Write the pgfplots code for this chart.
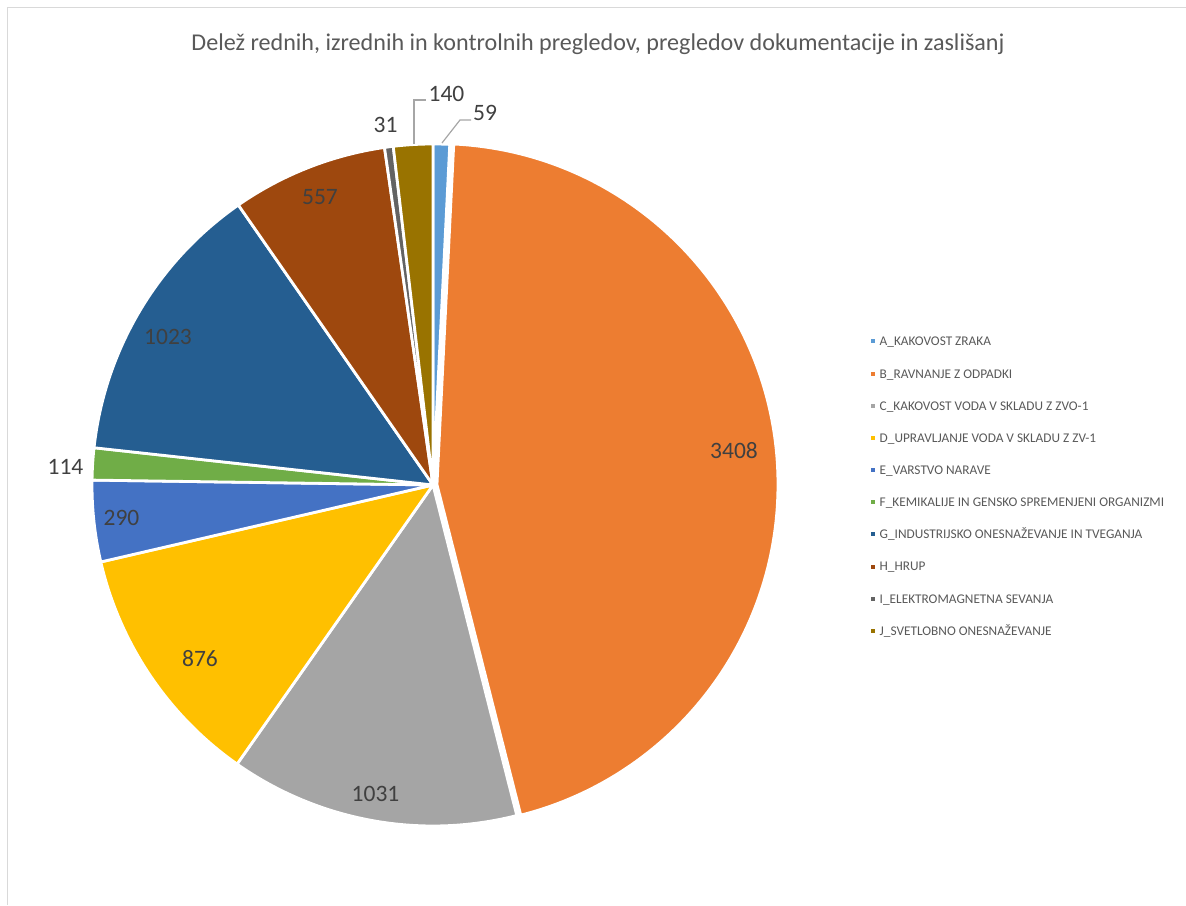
\documentclass[border=0pt]{standalone}
\usepackage{pgfplots}
\pgfplotsset{compat=1.18}
\usepackage{fontspec}
\setmainfont{Carlito}

\definecolor{c1}{HTML}{5B9BD5}
\definecolor{c2}{HTML}{ED7D31}
\definecolor{c3}{HTML}{A5A5A5}
\definecolor{c4}{HTML}{FFC000}
\definecolor{c5}{HTML}{4472C4}
\definecolor{c6}{HTML}{70AD47}
\definecolor{c7}{HTML}{255E91}
\definecolor{c8}{HTML}{9E480E}
\definecolor{c9}{HTML}{636363}
\definecolor{c10}{HTML}{997300}
\definecolor{titlegray}{HTML}{595959}
\definecolor{labelgray}{HTML}{404040}
\definecolor{framegray}{HTML}{D9D9D9}
\definecolor{leadergray}{HTML}{A6A6A6}

% values of the slices, clockwise from 12 o'clock
\def\pievalues{59,3408,1031,876,290,114,1023,557,31,140}
% explode offset (px) of each slice
\def\pieexplode{0,4,0,0,0,0,0,0,0,0}
\def\cx{433}\def\cy{420}\def\rad{341}

\begin{document}
\begin{tikzpicture}
\useasboundingbox (0,0) rectangle (1186pt,905pt);
% cumulative angles
\xdef\total{0}
\foreach \v in \pievalues {\pgfmathparse{\total+\v}\xdef\total{\pgfmathresult}}
\xdef\cum{0}
\foreach \v [count=\i] in \pievalues {
  \pgfmathsetmacro\a{90-\cum/\total*360}
  \pgfmathparse{\cum+\v}\xdef\cum{\pgfmathresult}
  \pgfmathsetmacro\b{90-\cum/\total*360}
  \expandafter\xdef\csname sa\i\endcsname{\a}
  \expandafter\xdef\csname sb\i\endcsname{\b}
}
\foreach \e [count=\i] in \pieexplode {
  \pgfmathsetmacro\m{(\csname sa\i\endcsname+\csname sb\i\endcsname)/2}
  \pgfmathsetmacro\ex{\cx+\e*cos(\m)}
  \pgfmathsetmacro\ey{\cy+\e*sin(\m)}
  \expandafter\xdef\csname ex\i\endcsname{\ex}
  \expandafter\xdef\csname ey\i\endcsname{\ey}
}
\begin{axis}[
  at={(0,0)}, anchor=south west,
  scale only axis, x=1pt, y=1pt,
  xmin=0, xmax=1186, ymin=0, ymax=905,
  hide axis, clip=false,
]
\pgfplotsinvokeforeach{1,...,10}{
  \edef\temp{\noexpand\fill[c#1, draw=white, line width=2.8pt, line join=round]
    (axis cs:\csname ex#1\endcsname,\csname ey#1\endcsname)
    -- ++(\csname sa#1\endcsname:\rad pt)
    arc[start angle=\csname sa#1\endcsname, end angle=\csname sb#1\endcsname, radius=\rad pt]
    -- cycle;}
  \temp
}
% frame
\draw[framegray, line width=1.5pt] (axis cs:7.5,0) -- (axis cs:7.5,897.5) -- (axis cs:1186,897.5);
% title
\node[titlegray, anchor=base, inner sep=0pt, font=\fontsize{24.1}{28}\selectfont] at (axis cs:598,854) {Delež rednih, izrednih in kontrolnih pregledov, pregledov dokumentacije in zaslišanj};
% leader lines
\draw[leadergray, line width=1.2pt] (axis cs:414,761) -- (axis cs:414,805) -- (axis cs:426,805);
\draw[leadergray, line width=1.2pt] (axis cs:442,762) -- (axis cs:460,785) -- (axis cs:471,785);
% data labels
\begin{scope}[every node/.style={labelgray, font=\fontsize{23.5}{28}\selectfont}]
\node at (axis cs:485,792.5) {59};
\node at (axis cs:734,454.5) {3408};
\node at (axis cs:375.5,111) {1031};
\node at (axis cs:200,246) {876};
\node at (axis cs:121.5,387) {290};
\node at (axis cs:65.5,438) {114};
\node at (axis cs:168,568.5) {1023};
\node at (axis cs:320,708) {557};
\node at (axis cs:385.5,780) {31};
\node at (axis cs:446.5,811.5) {140};
\end{scope}
% legend
\foreach \t [count=\i] in {A\_KAKOVOST ZRAKA, B\_RAVNANJE Z ODPADKI, C\_KAKOVOST VODA V SKLADU Z ZVO-1, D\_UPRAVLJANJE VODA V SKLADU Z ZV-1, E\_VARSTVO NARAVE, F\_KEMIKALIJE IN GENSKO SPREMENJENI ORGANIZMI, G\_INDUSTRIJSKO ONESNAŽEVANJE IN TVEGANJA, H\_HRUP, I\_ELEKTROMAGNETNA SEVANJA, J\_SVETLOBNO ONESNAŽEVANJE} {
  \pgfmathsetmacro\ly{905-341.5-(\i-1)*32.15}
  \edef\temp{\noexpand\fill[c\i] (axis cs:871,\ly-2) rectangle (axis cs:875,\ly+2);
    \noexpand\node[titlegray, anchor=base west, inner sep=0pt, font=\noexpand\fontsize{13.3}{16}\noexpand\selectfont] at (axis cs:879.5,\ly-4.4) {\unexpanded\expandafter{\t}};}
  \temp
}
\end{axis}
\end{tikzpicture}
\end{document}
